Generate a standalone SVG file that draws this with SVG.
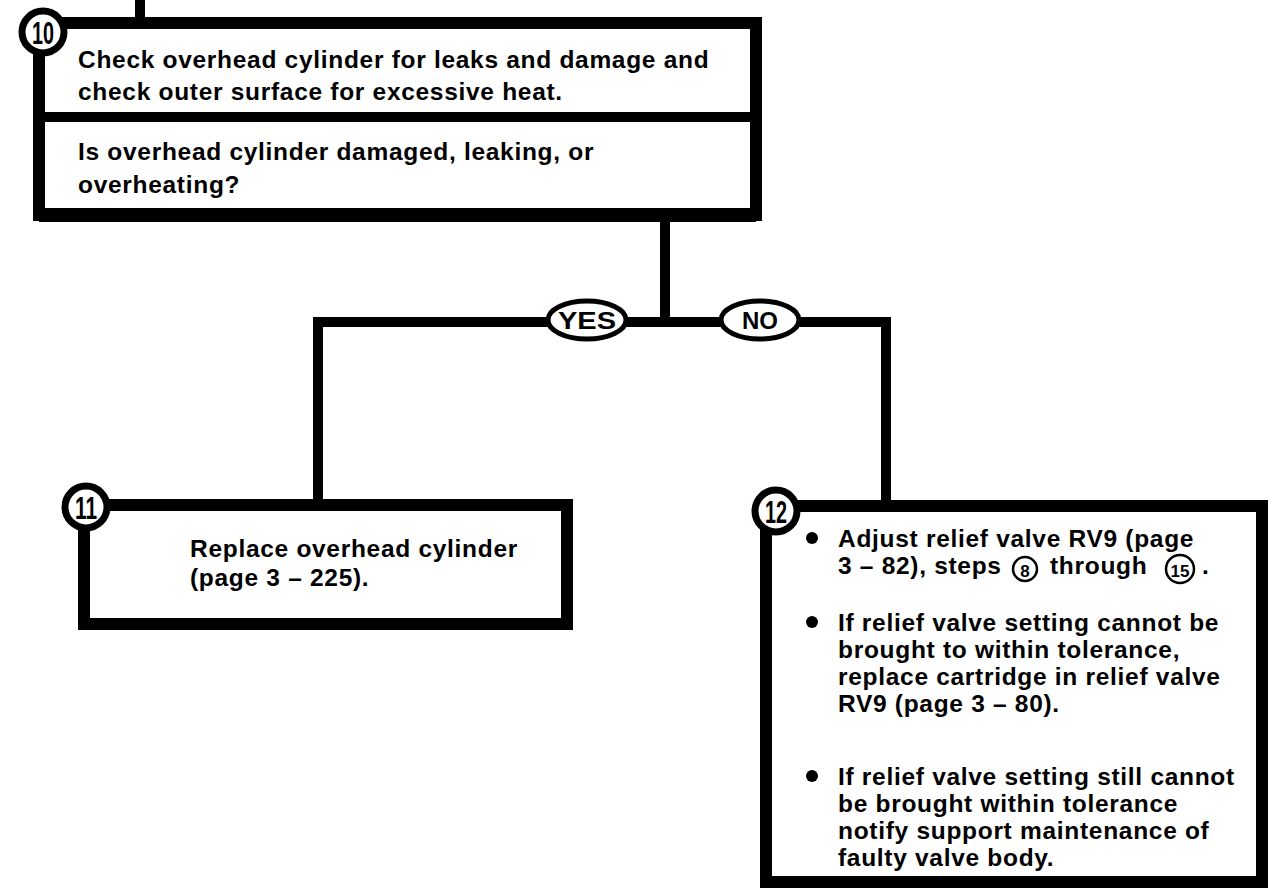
<svg xmlns="http://www.w3.org/2000/svg" width="1269" height="889" viewBox="0 0 1269 889">
<style>
text{font-family:"Liberation Sans",Arial,sans-serif;font-weight:bold;fill:#000}
.t{font-size:24.5px;letter-spacing:0.7px}
.box{fill:#fff;stroke:#000;stroke-width:12}
.div{stroke:#000;stroke-width:10}
.ln{stroke:#000;stroke-width:10;fill:none}
.num{fill:#fff;stroke:#000;stroke-width:7}
.nt{font-size:31px;text-anchor:middle}
.lbl{fill:#fff;stroke:#000;stroke-width:5}
.lt{font-size:24px;text-anchor:middle}
.sm{fill:#fff;stroke:#000;stroke-width:2.5}
.st{font-size:17px;text-anchor:middle}
</style>
<g id="connectors">
  <line x1="140" y1="0" x2="140" y2="24" class="ln"/>
  <line x1="665" y1="216" x2="665" y2="322" class="ln"/>
  <polyline points="318,505 318,322 886,322 886,505" class="ln"/>
  <g id="yes">
    <ellipse cx="587" cy="320" rx="39" ry="19" class="lbl"/>
    <text x="587" y="329" class="lt" textLength="58" lengthAdjust="spacingAndGlyphs">YES</text>
  </g>
  <g id="no">
    <ellipse cx="760" cy="320" rx="39" ry="19" class="lbl"/>
    <text x="760" y="329" class="lt">NO</text>
  </g>
</g>
<g id="n10">
  <rect x="39" y="23" width="717" height="192" class="box"/>
  <line x1="39" y1="215" x2="756" y2="215" stroke="#000" stroke-width="14"/>
  <line x1="39" y1="117" x2="756" y2="117" class="div"/>
  <circle cx="43" cy="32" r="21" class="num"/>
  <text x="43" y="43.5" class="nt" textLength="22" lengthAdjust="spacingAndGlyphs">10</text>
  <text x="78" y="68" class="t">Check overhead cylinder for leaks and damage and</text>
  <text x="78" y="100" class="t">check outer surface for excessive heat.</text>
  <text x="78" y="160" class="t">Is overhead cylinder damaged, leaking, or</text>
  <text x="78" y="193" class="t">overheating?</text>
</g>
<g id="n11">
  <rect x="84" y="505" width="483" height="119" class="box"/>
  <circle cx="86" cy="507" r="21" class="num"/>
  <text x="86" y="518.5" class="nt" textLength="22" lengthAdjust="spacingAndGlyphs">11</text>
  <text x="190" y="557" class="t">Replace overhead cylinder</text>
  <text x="190" y="586" class="t">(page 3 – 225).</text>
</g>
<g id="n12">
  <rect x="766" y="506" width="496" height="376" class="box"/>
  <circle cx="776" cy="511" r="21" class="num"/>
  <text x="776" y="522.5" class="nt" textLength="22" lengthAdjust="spacingAndGlyphs">12</text>
  <circle cx="812" cy="538" r="6"/>
  <text x="838" y="547" class="t">Adjust relief valve RV9 (page</text>
  <text x="838" y="574" class="t">3 – 82), steps</text>
  <circle cx="1025" cy="569" r="12" class="sm"/>
  <text x="1025" y="577" class="st">8</text>
  <text x="1050" y="574" class="t">through</text>
  <circle cx="1180" cy="569" r="14" class="sm"/>
  <text x="1180" y="577" class="st">15</text>
  <text x="1202" y="574" class="t">.</text>
  <circle cx="812" cy="622" r="6"/>
  <text x="838" y="631" class="t">If relief valve setting cannot be</text>
  <text x="838" y="658" class="t">brought to within tolerance,</text>
  <text x="838" y="685" class="t">replace cartridge in relief valve</text>
  <text x="838" y="712" class="t">RV9 (page 3 – 80).</text>
  <circle cx="812" cy="776" r="6"/>
  <text x="838" y="785" class="t">If relief valve setting still cannot</text>
  <text x="838" y="812" class="t">be brought within tolerance</text>
  <text x="838" y="839" class="t">notify support maintenance of</text>
  <text x="838" y="866" class="t">faulty valve body.</text>
</g>
</svg>
